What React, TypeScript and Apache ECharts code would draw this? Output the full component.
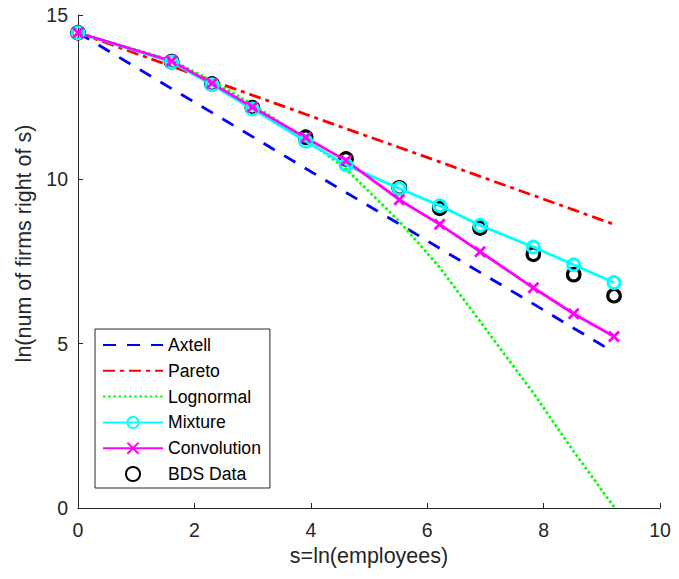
import React, { useEffect, useRef } from "react";
import * as echarts from "echarts";

const sizes = [0, 1.609, 2.303, 2.996, 3.912, 4.605, 5.521, 6.215, 6.908, 7.824, 8.517, 9.21];
const axtell = [14.46, 12.76, 12.03, 11.3, 10.33, 9.6, 8.64, 7.9, 7.17, 6.21, 5.47, 4.74];
const pareto = [14.46, 13.44, 13.0, 12.56, 11.98, 11.54, 10.97, 10.53, 10.09, 9.51, 9.07, 8.63];
const lognormal = [14.46, 13.62, 13.0, 12.28, 11.22, 10.32, 8.72, 7.32, 5.68, 3.5, 1.72, 0.03];
const mixture = [14.46, 13.57, 12.88, 12.14, 11.16, 10.44, 9.72, 9.2, 8.6, 7.94, 7.4, 6.86];
const convolution = [14.46, 13.6, 12.92, 12.2, 11.27, 10.57, 9.38, 8.63, 7.8, 6.7, 5.91, 5.22];
const bds = [14.46, 13.58, 12.9, 12.18, 11.28, 10.62, 9.74, 9.12, 8.52, 7.72, 7.1, 6.46];
const xTicks = [0, 2, 4, 6, 8, 10];
const yTicks = [0, 5, 10, 15];
const legendNames = ["Axtell", "Pareto", "Lognormal", "Mixture", "Convolution", "BDS Data"];
const lineOnly = ["Axtell", "Pareto", "Lognormal"];

const pair = (ys: number[]) => sizes.map((x, i) => [x, ys[i]]);

const FONT = "Liberation Sans, Arial, Helvetica, sans-serif";
const AX = "#262626";
const LW = 2.8;

export default function App() {
  const ref = useRef<HTMLDivElement>(null);
  useEffect(() => {
    if (!ref.current) return;
    const chart = echarts.init(ref.current, null, { renderer: "svg" });
    chart.setOption({
      animation: false,
      backgroundColor: "#fff",
      textStyle: { fontFamily: FONT },
      grid: { left: 78, right: 19, top: 15, bottom: 71, containLabel: false },
      legend: {
        orient: "vertical",
        left: 95,
        top: 329,
        itemWidth: 60,
        itemHeight: 14,
        itemGap: 7.8,
        padding: [7, 9, 5, 7],
        borderColor: "#262626",
        borderWidth: 1,
        backgroundColor: "#fff",
        textStyle: { fontSize: 17.6, color: "#000", fontFamily: FONT, lineHeight: 18 },
        data: legendNames.map((n) =>
          lineOnly.includes(n) ? { name: n, itemStyle: { opacity: 0 } } : { name: n }
        ),
      },
      xAxis: {
        type: "value",
        min: 0,
        max: 10,
        interval: 2,
        name: "s=ln(employees)",
        nameLocation: "middle",
        nameGap: 36,
        nameTextStyle: { fontSize: 21.5, color: AX, fontFamily: FONT },
        axisLine: { lineStyle: { color: AX, width: 1 } },
        axisTick: { inside: true, length: 5, lineStyle: { color: AX } },
        axisLabel: { fontSize: 19.5, color: AX, margin: 12, fontFamily: FONT, customValues: xTicks },
        splitLine: { show: false },
      },
      yAxis: {
        type: "value",
        min: 0,
        max: 15,
        interval: 5,
        name: "ln(num of firms right of s)",
        nameLocation: "middle",
        nameGap: 39,
        nameTextStyle: { fontSize: 21.5, color: AX, fontFamily: FONT, padding: [0, 0, 0, 36] },
        axisLine: { show: true, lineStyle: { color: AX, width: 1 } },
        axisTick: { show: true, inside: true, length: 5, lineStyle: { color: AX } },
        axisLabel: { fontSize: 19.5, color: AX, margin: 10, fontFamily: FONT, customValues: yTicks },
        splitLine: { show: false },
      },
      series: [
        {
          name: "Axtell",
          type: "line",
          data: pair(axtell),
          symbol: "none",
          color: "#0000ff",
          lineStyle: { color: "#0000ff", width: LW, type: [13, 11] },
        },
        {
          name: "Pareto",
          type: "line",
          data: pair(pareto),
          symbol: "none",
          color: "#ff0000",
          lineStyle: { color: "#ff0000", width: LW, type: [12, 5, 4, 5] },
        },
        {
          name: "Lognormal",
          type: "line",
          data: pair(lognormal),
          symbol: "none",
          color: "#00ff00",
          lineStyle: { color: "#00ff00", width: LW, type: [2.6, 2.6] },
        },
        {
          name: "Mixture",
          type: "line",
          data: pair(mixture),
          symbol: "circle",
          symbolSize: 12,
          color: "#00ffff",
          itemStyle: { color: "rgba(0,0,0,0)", borderColor: "#00ffff", borderWidth: LW },
          lineStyle: { color: "#00ffff", width: LW },
        },
        {
          name: "Convolution",
          type: "line",
          data: pair(convolution),
          symbol: "path://M0,0L10,10M10,0L0,10",
          symbolSize: 10,
          color: "#ff00ff",
          itemStyle: { color: "#ff00ff", borderColor: "#ff00ff", borderWidth: LW },
          lineStyle: { color: "#ff00ff", width: LW },
        },
        {
          name: "BDS Data",
          type: "scatter",
          data: pair(bds),
          symbol: "circle",
          symbolSize: 12.5,
          color: "#000",
          itemStyle: { color: "rgba(0,0,0,0)", borderColor: "#000", borderWidth: 3.2, opacity: 1 },
        },
      ],
    });
    return () => chart.dispose();
  }, []);
  return <div ref={ref} style={{ width: 679, height: 579, position: "absolute", left: 0, top: 0 }} />;
}
